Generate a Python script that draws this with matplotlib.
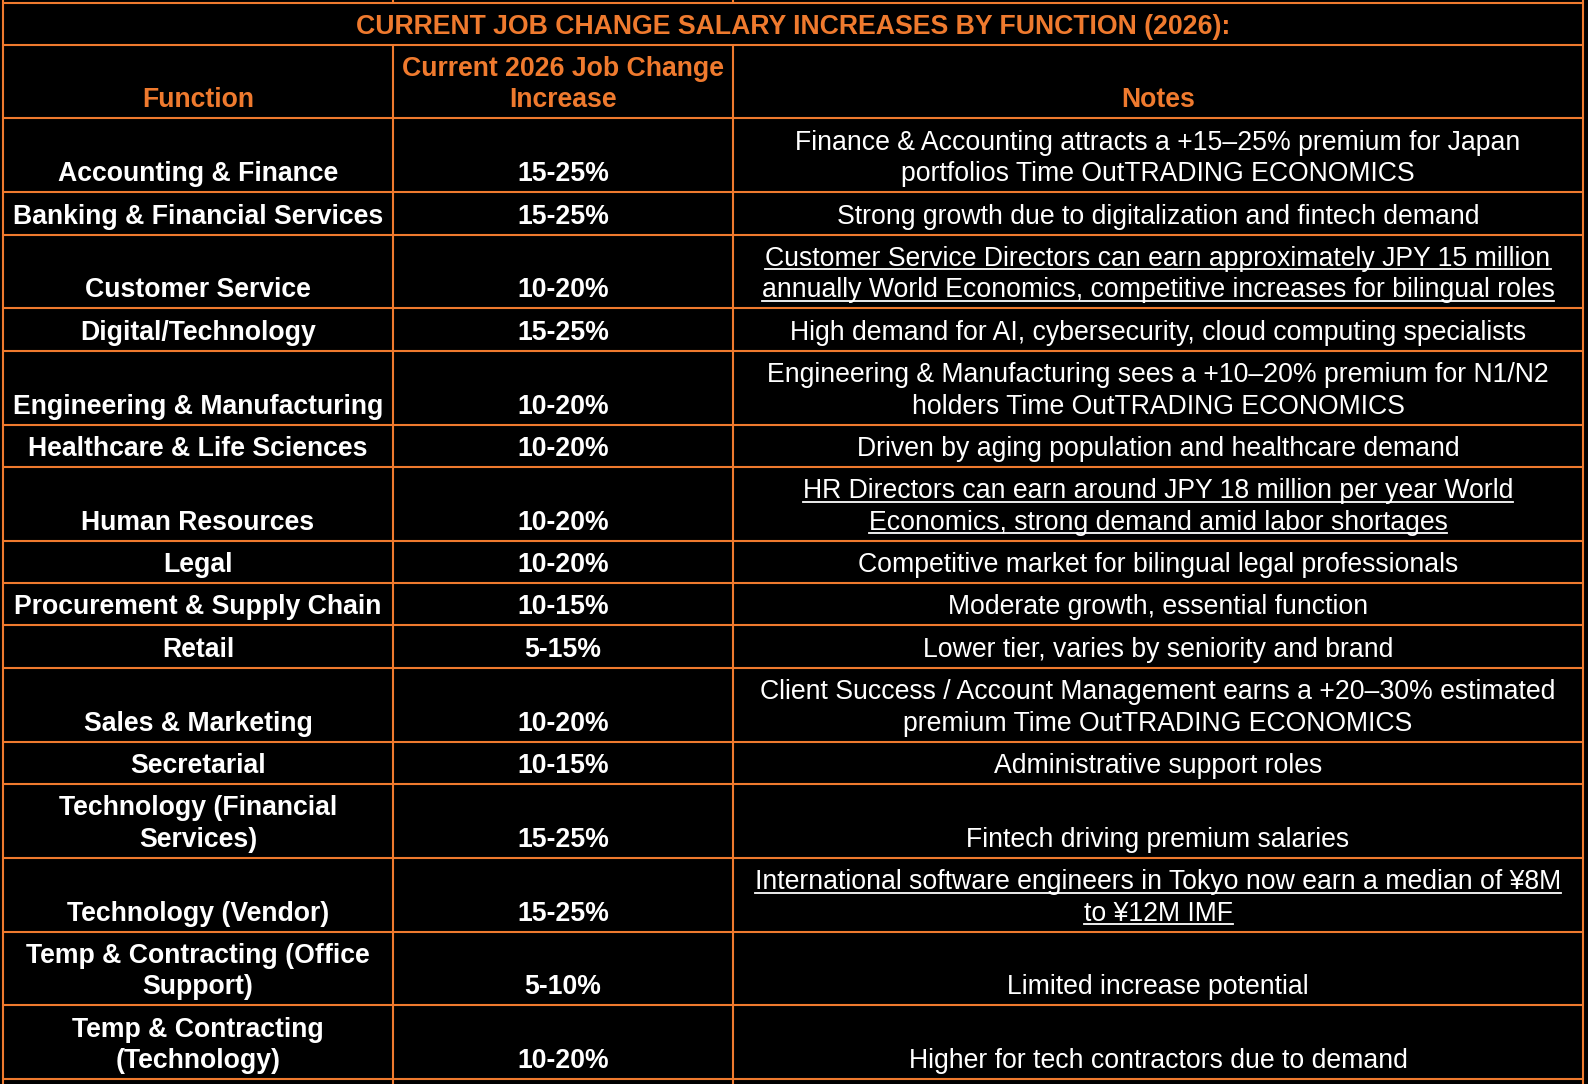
"""Job change salary increase table (2026), drawn as a plain matplotlib grid."""

import matplotlib.pyplot as plt

title = "CURRENT JOB CHANGE SALARY INCREASES BY FUNCTION (2026):"
headers = ["Function", "Current 2026 Job Change\nIncrease", "Notes"]

functions = [
    "Accounting & Finance",
    "Banking & Financial Services",
    "Customer Service",
    "Digital/Technology",
    "Engineering & Manufacturing",
    "Healthcare & Life Sciences",
    "Human Resources",
    "Legal",
    "Procurement & Supply Chain",
    "Retail",
    "Sales & Marketing",
    "Secretarial",
    "Technology (Financial\nServices)",
    "Technology (Vendor)",
    "Temp & Contracting (Office\nSupport)",
    "Temp & Contracting\n(Technology)",
]
increases = [
    "15-25%", "15-25%", "10-20%", "15-25%", "10-20%", "10-20%", "10-20%",
    "10-20%", "10-15%", "5-15%", "10-20%", "10-15%", "15-25%", "15-25%",
    "5-10%", "10-20%",
]
notes = [
    "Finance & Accounting attracts a +15–25% premium for Japan\n"
    "portfolios Time OutTRADING ECONOMICS",
    "Strong growth due to digitalization and fintech demand",
    "Customer Service Directors can earn approximately JPY 15 million\n"
    "annually World Economics, competitive increases for bilingual roles",
    "High demand for AI, cybersecurity, cloud computing specialists",
    "Engineering & Manufacturing sees a +10–20% premium for N1/N2\n"
    "holders Time OutTRADING ECONOMICS",
    "Driven by aging population and healthcare demand",
    "HR Directors can earn around JPY 18 million per year World\n"
    "Economics, strong demand amid labor shortages",
    "Competitive market for bilingual legal professionals",
    "Moderate growth, essential function",
    "Lower tier, varies by seniority and brand",
    "Client Success / Account Management earns a +20–30% estimated\n"
    "premium Time OutTRADING ECONOMICS",
    "Administrative support roles",
    "Fintech driving premium salaries",
    "International software engineers in Tokyo now earn a median of ¥8M\n"
    "to ¥12M IMF",
    "Limited increase potential",
    "Higher for tech contractors due to demand",
]
# notes that are hyperlinks in the source sheet
underlined = [False, False, True, False, False, False, True, False,
              False, False, False, False, False, True, False, False]

ORANGE = "#EF7A2E"
W, H = 1588, 1084
COL_X = [3, 393, 733, 1583]
TOP = 3
TITLE_H = 41.5
SINGLE_H = 42.4
LINE_H = 31.4
FS = 19.2
FONT = ["Liberation Sans", "DejaVu Sans"]

fig = plt.figure(figsize=(W / 100, H / 100), dpi=100, facecolor="black")
ax = fig.add_axes([0, 0, 1, 1])
ax.set_facecolor("black")
ax.set_xlim(0, W)
ax.set_ylim(H, 0)
ax.axis("off")

col_centers = [(COL_X[i] + COL_X[i + 1]) / 2 for i in range(3)]
link_texts = []


def draw_cell(x, bottom, text, color, bold, link=False):
    lines = text.split("\n")
    n = len(lines)
    for i, line in enumerate(lines):
        y = bottom - 11 - (n - 1 - i) * 31.5
        t = ax.text(x, y, line, ha="center", va="baseline", fontsize=FS,
                    color=color, family=FONT,
                    fontweight="bold" if bold else "normal")
        if link:
            link_texts.append((t, y))


# title row
y = TOP
boundaries = [y]
y += TITLE_H
boundaries.append(y)
ax.text(sum(COL_X[::3]) / 2, y - 11, title, ha="center", va="baseline",
        fontsize=FS, color=ORANGE, fontweight="bold", family=FONT)

# header row
n_lines = max(h.count("\n") + 1 for h in headers)
y += SINGLE_H + (n_lines - 1) * LINE_H
boundaries.append(y)
for cx, h in zip(col_centers, headers):
    draw_cell(cx, y, h, ORANGE, True)

# body rows
for func, inc, note, link in zip(functions, increases, notes, underlined):
    n_lines = max(s.count("\n") + 1 for s in (func, inc, note))
    y += SINGLE_H + (n_lines - 1) * LINE_H
    boundaries.append(y)
    draw_cell(col_centers[0], y, func, "white", True)
    draw_cell(col_centers[1], y, inc, "white", True)
    draw_cell(col_centers[2], y, note, "white", False, link)

# grid lines
lw = 1.5
ax.hlines(boundaries, COL_X[0], COL_X[-1], colors=ORANGE, linewidth=lw)
ax.vlines([COL_X[0], COL_X[-1]], 0, H, colors=ORANGE, linewidth=lw)
ax.vlines(COL_X[1:3], 0, TOP, colors=ORANGE, linewidth=lw)
ax.vlines(COL_X[1:3], boundaries[1], H, colors=ORANGE, linewidth=lw)

# underline the hyperlink notes
fig.canvas.draw()
renderer = fig.canvas.get_renderer()
inv = ax.transData.inverted()
for t, base in link_texts:
    bb = t.get_window_extent(renderer)
    (x0, _), (x1, _) = inv.transform([(bb.x0, bb.y0), (bb.x1, bb.y1)])
    ax.plot([x0, x1], [base + 3.5, base + 3.5], color="white", linewidth=1.3)

fig.savefig("out.png", dpi=100, facecolor="black")
print("Saved: out.png")
